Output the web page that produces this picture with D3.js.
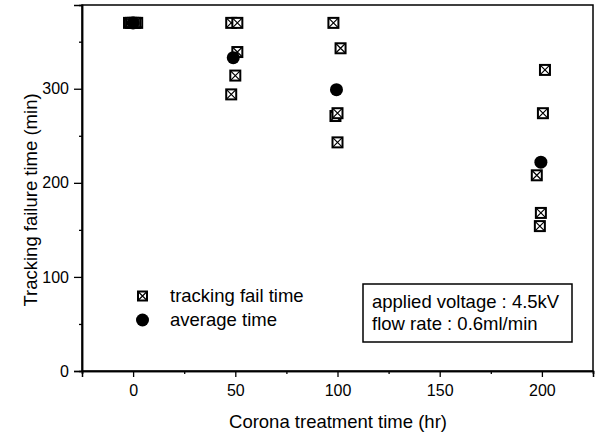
<!DOCTYPE html>
<html>
<head>
<meta charset="utf-8">
<script src="https://cdn.jsdelivr.net/npm/d3@7"></script>
<style>
  body { margin: 0; background: #fff; }
  svg { font-family: "Liberation Sans", Arial, sans-serif; }
</style>
</head>
<body>
<div id="chart"></div>
<script>
// individual tracking failure times (hr, min)
var failHours = [-2, 0, 2, 1, -1,
                 48, 51, 51, 50, 48,
                 98, 101.5, 99, 100, 100,
                 201.5, 200.5, 197.5, 199.5, 199];
var failTimes = [370, 370, 370, 370, 370,
                 370, 370, 339, 314, 294,
                 370, 343, 271, 274, 243,
                 320, 274, 208, 168, 154];
// averages
var avgHours = [0, 49, 99.5, 199.5];
var avgTimes = [370, 333, 299, 222];

var xTicks = [0, 50, 100, 150, 200];
var xMinor = [-25, 25, 75, 125, 175, 225];
var yTicks = [0, 100, 200, 300];
var yMinor = [50, 150, 250, 350];

var legendLabels = ["tracking fail time", "average time"];
var noteLines = ["applied voltage : 4.5kV", "flow rate : 0.6ml/min"];

var width = 598, height = 436;
var plotL = 82, plotR = 593, plotT = 5, plotB = 371;

var svg = d3.select("#chart").append("svg")
    .attr("width", width)
    .attr("height", height);

var xScale = d3.scaleLinear().domain([-25, 225]).range([plotL, plotR]);
var yScale = d3.scaleLinear().domain([0, 389]).range([plotB, plotT]);

// frame
svg.append("rect")
    .attr("x", plotL).attr("y", plotT)
    .attr("width", plotR - plotL).attr("height", plotB - plotT)
    .attr("fill", "none").attr("stroke", "#000").attr("stroke-width", 1.5);

// x axis
svg.append("g")
    .attr("transform", "translate(0," + plotB + ")")
    .call(d3.axisBottom(xScale).tickValues(xTicks).tickSize(6).tickPadding(8));
svg.append("g")
    .attr("transform", "translate(0," + plotB + ")")
    .call(d3.axisBottom(xScale).tickValues(xMinor).tickSize(3).tickFormat(""));

// y axis
svg.append("g")
    .attr("transform", "translate(" + plotL + ",0)")
    .call(d3.axisLeft(yScale).tickValues(yTicks).tickSize(8).tickPadding(5));
svg.append("g")
    .attr("transform", "translate(" + plotL + ",0)")
    .call(d3.axisLeft(yScale).tickValues(yMinor).tickSize(3).tickFormat(""));

svg.selectAll(".domain").attr("stroke", "#000").attr("stroke-width", 1.5);
svg.selectAll(".tick line").attr("stroke", "#000").attr("stroke-width", 1.3);
svg.selectAll(".tick text")
    .attr("font-family", "Liberation Sans, Arial, sans-serif")
    .attr("font-size", 16).attr("fill", "#000");

// titles
svg.append("text")
    .attr("x", 338).attr("y", 428)
    .attr("text-anchor", "middle").attr("font-size", 18.5)
    .text("Corona treatment time (hr)");
svg.append("text")
    .attr("transform", "translate(37,200) rotate(-90)")
    .attr("text-anchor", "middle").attr("font-size", 18.5)
    .text("Tracking failure time (min)");

// crossed-square marker
function crossSquare(g, cx, cy, s) {
    var h = s / 2;
    g.append("rect")
        .attr("x", cx - h).attr("y", cy - h)
        .attr("width", s).attr("height", s)
        .attr("fill", "#fff").attr("stroke", "#000").attr("stroke-width", 2);
    g.append("path")
        .attr("d", "M" + (cx - h) + "," + (cy - h) + "L" + (cx + h) + "," + (cy + h) +
                   "M" + (cx + h) + "," + (cy - h) + "L" + (cx - h) + "," + (cy + h))
        .attr("stroke", "#000").attr("stroke-width", 1.2);
}

var pts = svg.append("g");
failHours.forEach(function (h, i) {
    crossSquare(pts, xScale(h), yScale(failTimes[i]), 10);
});

svg.append("g").selectAll("circle")
    .data(avgHours)
    .enter().append("circle")
    .attr("cx", function (d) { return xScale(d); })
    .attr("cy", function (d, i) { return yScale(avgTimes[i]); })
    .attr("r", 6.5)
    .attr("fill", "#000");

// legend
var leg = svg.append("g");
crossSquare(leg, 142.5, 296, 9);
leg.append("circle").attr("cx", 142.5).attr("cy", 320).attr("r", 6.5).attr("fill", "#000");
leg.selectAll("text")
    .data(legendLabels)
    .enter().append("text")
    .attr("x", 170)
    .attr("y", function (d, i) { return 302 + i * 24; })
    .attr("font-size", 18.5)
    .text(function (d) { return d; });

// note box
svg.append("rect")
    .attr("x", 363).attr("y", 284)
    .attr("width", 209).attr("height", 58)
    .attr("fill", "#fff").attr("stroke", "#000").attr("stroke-width", 1.5);
svg.append("g").selectAll("text")
    .data(noteLines)
    .enter().append("text")
    .attr("x", 372)
    .attr("y", function (d, i) { return 308 + i * 22; })
    .attr("font-size", 18.5)
    .text(function (d) { return d; });
</script>
</body>
</html>
